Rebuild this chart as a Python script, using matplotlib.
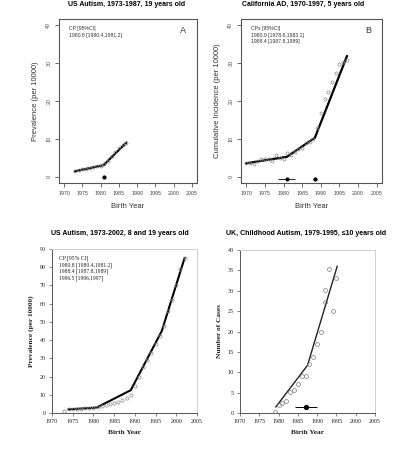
import numpy as np
import matplotlib
matplotlib.use("Agg")
import matplotlib.pyplot as plt

# ---- panel A: US autism, 1973-1987, 19 years old
a_years = list(range(1973, 1988))
a_prev = [1.5, 1.8, 2.0, 2.2, 2.4, 2.6, 2.8, 3.0, 3.3, 4.3, 5.4, 6.5, 7.5, 8.3, 9.0]
a_fit_x = [1973, 1980.8, 1987]
a_fit_y = [1.5, 3.1, 9.0]
a_cp = [1980.8]
a_cp_lo = [1980.4]
a_cp_hi = [1981.2]
a_cp_y = [0.0]

# ---- panel B: California AD, 1970-1997, 5 years old
b_years = list(range(1970, 1998))
b_inc = [3.8, 3.6, 3.3, 4.2, 4.6, 4.6, 4.7, 4.3, 5.8, 4.9, 4.8, 6.2, 5.8, 6.6,
         7.3, 7.6, 9.0, 9.2, 10.0, 13.0, 16.8, 20.5, 22.5, 25.0, 27.3, 29.8,
         30.2, 30.7]
b_fit_x = [1970, 1980.9, 1988.4, 1997]
b_fit_y = [3.6, 5.3, 10.3, 31.8]
b_cp = [1980.9, 1988.4]
b_cp_lo = [1978.6, 1987.8]
b_cp_hi = [1983.1, 1989.0]
b_cp_y = [-0.6, -0.6]

# ---- panel C: US autism, 1973-2002, 8 and 19 years old
c_years = list(range(1973, 2003))
c_prev = [1.3, 2.0, 2.2, 2.3, 2.4, 2.5, 2.7, 3.0, 3.2, 3.8, 4.3, 4.8, 5.3, 6.0,
          7.0, 8.5, 10.0, 15.0, 19.5, 25.0, 29.0, 33.0, 38.0, 42.0, 48.0, 56.0,
          62.0, 70.0, 79.0, 85.0]
c_fit_x = [1974, 1980.8, 1989, 1996.5, 2002]
c_fit_y = [2.0, 3.0, 12.5, 45.0, 85.0]

# ---- panel D: UK childhood autism, 1979-1995, <=10 years old
d_years = [1979, 1980, 1981, 1982, 1983, 1984, 1985, 1986, 1987, 1988, 1989,
           1990, 1991, 1992, 1992, 1993, 1994, 1995]
d_cases = [0.3, 1.9, 2.5, 2.9, 5.2, 5.7, 7.0, 9.1, 9.1, 12.1, 13.8, 16.9,
           19.8, 27.3, 30.3, 35.4, 25.0, 33.2]
d_fit_x = [1979.3, 1987.5, 1995.2]
d_fit_y = [1.5, 11.7, 36.0]
d_cp = [1987.1]
d_cp_lo = [1984.2]
d_cp_hi = [1990.0]
d_cp_y = [1.5]

W, H = 396, 459
fig = plt.figure(figsize=(W / 100, H / 100), dpi=100)


def box(l, t, r, b):
    return [l / W, 1 - b / H, (r - l) / W, (b - t) / H]


SANS = "Liberation Sans"
SERIF = "Liberation Serif"
GREY = "#444444"


def r_style(ax, ylabel):
    ax.set_xlim(1968.6, 2006.4)
    ax.set_ylim(-1.6, 41.6)
    ax.set_xticks(range(1970, 2006, 5))
    ax.set_yticks(range(0, 41, 10))
    for s in ax.spines.values():
        s.set_color("#555555")
        s.set_linewidth(0.8)
    ax.tick_params(direction="out", length=3, width=0.6, color="#555555",
                   labelsize=3.8, labelcolor=GREY, pad=2.5)
    for lab in ax.get_xticklabels() + ax.get_yticklabels():
        lab.set_family(SANS)
    for lab in ax.get_yticklabels():
        lab.set_rotation(90)
        lab.set_va("center")
    ax.set_xlabel("Birth Year", fontsize=5.5, family=SANS, color="#333333", labelpad=5)
    ax.set_ylabel(ylabel, fontsize=5.5, family=SANS, color="#333333", labelpad=5)


def xl_style(ax, ymax, ystep, ylabel):
    ax.set_xlim(1970, 2005)
    ax.set_ylim(0, ymax)
    ax.set_xticks(range(1970, 2006, 5))
    ax.set_yticks(range(0, ymax + 1, ystep))
    ax.spines["left"].set_color("#555555")
    ax.spines["bottom"].set_color("#555555")
    ax.spines["top"].set_color("#cfcfcf")
    ax.spines["right"].set_color("#cfcfcf")
    for s in ax.spines.values():
        s.set_linewidth(0.7)
    ax.tick_params(direction="out", length=2, width=0.5, color="#555555",
                   labelsize=4.3, labelcolor="#222222", pad=2.5)
    for lab in ax.get_xticklabels() + ax.get_yticklabels():
        lab.set_family(SERIF)
    ax.set_xlabel("Birth Year", fontsize=5.3, family=SERIF, weight="bold",
                  color="#222222", labelpad=4)
    ax.set_ylabel(ylabel, fontsize=5.3, family=SERIF, weight="bold",
                  color="#222222", labelpad=4)


# ---------- A
axA = fig.add_axes(box(59, 19, 197, 183))
axA.plot(a_fit_x, a_fit_y, color="black", lw=1.6, zorder=2)
axA.plot(a_years, a_prev, "o", mfc="none", mec="#888888", ms=2.2, mew=0.5, zorder=3)
axA.errorbar(a_cp, a_cp_y, xerr=[np.subtract(a_cp, a_cp_lo), np.subtract(a_cp_hi, a_cp)],
             fmt="o", color="black", ms=2, elinewidth=0.6, capsize=0)
r_style(axA, "Prevalence (per 10000)")
axA.text(0.07, 0.955, "CP [95%CI]\n1980.8 [1980.4,1981.2]", transform=axA.transAxes,
         fontsize=3.7, family=SANS, color="#333333", va="top", linespacing=1.3)
axA.text(0.9, 0.93, "A", transform=axA.transAxes, fontsize=6.5, family=SANS,
         color="#333333", va="center", ha="center")
fig.text(127 / W, 1 - 5 / H, "US Autism, 1973-1987, 19 years old", ha="center",
         va="center", fontsize=5, weight="bold", family=SANS)

# ---------- B
axB = fig.add_axes(box(241, 19, 382, 183))
axB.plot(b_fit_x, b_fit_y, color="black", lw=1.6, zorder=2)
axB.plot(b_years, b_inc, "o", mfc="none", mec="#888888", ms=2.2, mew=0.5, zorder=3)
axB.errorbar(b_cp, b_cp_y, xerr=[np.subtract(b_cp, b_cp_lo), np.subtract(b_cp_hi, b_cp)],
             fmt="o", color="black", ms=2, elinewidth=0.6, capsize=0)
r_style(axB, "Cumulative Incidence (per 10000)")
axB.text(0.07, 0.955, "CPs [95%CI]\n1980.9 [1978.6,1983.1]\n1988.4 [1987.8,1989]",
         transform=axB.transAxes, fontsize=3.7, family=SANS, color="#333333",
         va="top", linespacing=1.3)
axB.text(0.9, 0.93, "B", transform=axB.transAxes, fontsize=6.5, family=SANS,
         color="#333333", va="center", ha="center")
fig.text(303 / W, 1 - 5 / H, "California AD, 1970-1997, 5 years old", ha="center",
         va="center", fontsize=5, weight="bold", family=SANS)

# ---------- C
axC = fig.add_axes(box(52, 249, 197, 413))
axC.plot(c_fit_x, c_fit_y, color="black", lw=1.5, zorder=2)
axC.plot(c_years, c_prev, "o", mfc="none", mec="#888888", ms=2.3, mew=0.5, zorder=3)
xl_style(axC, 90, 10, "Prevalence (per 10000)")
axC.text(0.05, 0.96, "CP [95% CI]\n1980.8 [1980.4,1981.2]\n1988.4 [1987.8,1989]\n1996.5 [1996,1997]",
         transform=axC.transAxes, fontsize=4.1, family=SERIF, color="#222222",
         va="top", linespacing=1.3)
fig.text(120 / W, 1 - 234 / H, "US Autism, 1973-2002, 8 and 19 years old", ha="center",
         va="center", fontsize=5, weight="bold", family=SANS)

# ---------- D
axD = fig.add_axes(box(240, 250, 375, 413))
axD.plot(d_fit_x, d_fit_y, color="#222222", lw=1.0, zorder=2)
axD.plot(d_years, d_cases, "o", mfc="none", mec="#777777", ms=2.8, mew=0.5, zorder=3)
axD.errorbar(d_cp, d_cp_y, xerr=[np.subtract(d_cp, d_cp_lo), np.subtract(d_cp_hi, d_cp)],
             fmt="o", color="black", ms=2.8, elinewidth=0.7, capsize=0)
xl_style(axD, 40, 5, "Number of Cases")
fig.text(306 / W, 1 - 233 / H, "UK, Childhood Autism, 1979-1995, \u226410 years old",
         ha="center", va="center", fontsize=5, weight="bold", family=SANS)

fig.savefig("out.png", dpi=100)
